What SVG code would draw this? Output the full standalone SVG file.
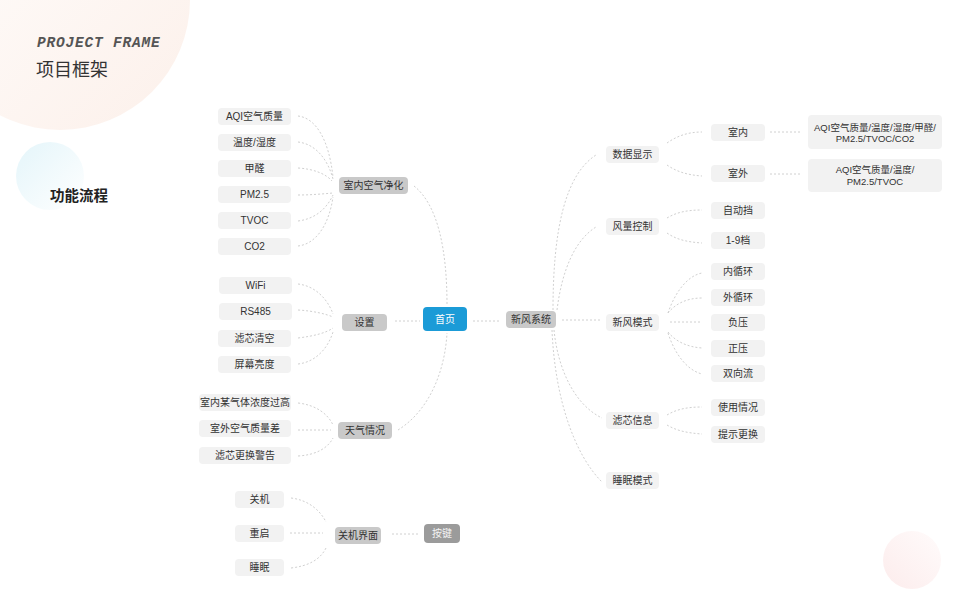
<svg xmlns="http://www.w3.org/2000/svg" width="960" height="600" viewBox="0 0 960 600">
<defs>
<linearGradient id="gPeach" x1="0" y1="0" x2="1" y2="1">
<stop offset="0" stop-color="#fffefd"/>
<stop offset="1" stop-color="#fcf0ea"/>
</linearGradient>
<linearGradient id="gBlue" x1="0" y1="0" x2="1" y2="1">
<stop offset="0" stop-color="#e4f5fa"/>
<stop offset="1" stop-color="#ffffff"/>
</linearGradient>
<linearGradient id="gPink" x1="0" y1="1" x2="1" y2="0">
<stop offset="0" stop-color="#fcecec"/>
<stop offset="1" stop-color="#fffbfb"/>
</linearGradient>
<style>
text{font-family:"Liberation Sans","Noto Sans CJK SC",sans-serif;font-size:10px;fill:#333;text-anchor:middle}
.leaf{fill:#f2f2f2}
.mid{fill:#c9c9c9}
.lt{fill:#f2f2f2}
.key{fill:#9b9b9b}
.conn path{fill:none;stroke:#d0d0d0;stroke-width:1;stroke-dasharray:2 2}
</style>
</defs>
<rect width="960" height="600" fill="#ffffff"/>
<circle cx="60" cy="0" r="130" fill="url(#gPeach)"/>
<circle cx="50" cy="176" r="34" fill="url(#gBlue)"/>
<circle cx="912" cy="560" r="29" fill="url(#gPink)"/>
<text x="37" y="47" style="font-family:'Liberation Mono',monospace;font-size:14.5px;font-style:italic;font-weight:bold;fill:#555;text-anchor:start;letter-spacing:0.8px">PROJECT FRAME</text>
<text x="36" y="76" style="font-size:18px;fill:#333;text-anchor:start">项目框架</text>
<text x="50" y="201" style="font-size:14.5px;font-weight:bold;fill:#222;text-anchor:start">功能流程</text>

<g class="conn" id="connectors">
<path d="M298 116 C316 118 329 140 333 177"/>
<path d="M298 142 C316 144 328 160 333 179"/>
<path d="M298 168 C314 169 326 174 332 181"/>
<path d="M298 195 C310 195 322 194 333 193"/>
<path d="M298 221 C314 219 326 210 333 195"/>
<path d="M298 246 C316 244 329 225 333 197"/>
<path d="M414 186 C438 205 447 250 447 305"/>
<path d="M298 284 C316 286 328 300 333 314"/>
<path d="M298 310 C314 311 326 314 333 317"/>
<path d="M298 338 C314 336 326 333 333 328"/>
<path d="M298 364 C316 362 328 348 333 332"/>
<path d="M395 321 L420 321"/>
<path d="M298 403 C316 405 328 414 333 425"/>
<path d="M298 430 L331 430"/>
<path d="M298 456 C316 455 328 448 333 438"/>
<path d="M398 430 C430 410 445 370 447 333"/>
<path d="M291 498 C308 500 320 510 326 522"/>
<path d="M290 533 L323 533"/>
<path d="M291 568 C308 566 320 560 326 548"/>
<path d="M392 534 L419 534"/>
<path d="M473 321 L500 321"/>
<path d="M553 310 C553 230 565 175 596 155"/>
<path d="M557 310 C562 270 575 240 596 227"/>
<path d="M562 320 L601 320"/>
<path d="M554 330 C558 370 575 405 602 418"/>
<path d="M552 330 C555 400 575 455 602 482"/>
<path d="M667 143 C677 136 688 132 702 132"/>
<path d="M667 165 C677 172 688 175 702 176"/>
<path d="M770 132 L800 132"/>
<path d="M770 174 L800 174"/>
<path d="M667 218 C677 212 688 210 702 210"/>
<path d="M667 233 C677 240 688 242 702 243"/>
<path d="M668 313 C674 295 686 276 702 273"/>
<path d="M668 313 C676 303 688 298 702 298"/>
<path d="M670 322 L700 322"/>
<path d="M668 332 C676 342 688 347 702 348"/>
<path d="M668 333 C674 352 686 370 702 374"/>
<path d="M667 415 C677 409 688 407 702 407"/>
<path d="M667 425 C677 431 688 433 702 434"/>
</g>

<g id="n-aqi"><rect class="leaf" x="218" y="108" width="73" height="17" rx="4"/><text x="254.5" y="120">AQI空气质量</text></g>
<g id="n-wendu"><rect class="leaf" x="218" y="134" width="73" height="17" rx="4"/><text x="254.5" y="146">温度/湿度</text></g>
<g id="n-jiaquan"><rect class="leaf" x="218" y="160" width="73" height="17" rx="4"/><text x="254.5" y="172">甲醛</text></g>
<g id="n-pm25"><rect class="leaf" x="218" y="186" width="73" height="17" rx="4"/><text x="254.5" y="198">PM2.5</text></g>
<g id="n-tvoc"><rect class="leaf" x="218" y="212" width="73" height="17" rx="4"/><text x="254.5" y="224">TVOC</text></g>
<g id="n-co2"><rect class="leaf" x="218" y="238" width="73" height="17" rx="4"/><text x="254.5" y="250">CO2</text></g>
<g id="n-indoor"><rect class="mid" x="339" y="177" width="69" height="17" rx="4"/><text x="373.5" y="189">室内空气净化</text></g>

<g id="n-wifi"><rect class="leaf" x="219" y="277" width="73" height="17" rx="4"/><text x="255.5" y="289">WiFi</text></g>
<g id="n-rs485"><rect class="leaf" x="219" y="303" width="73" height="17" rx="4"/><text x="255.5" y="315">RS485</text></g>
<g id="n-lxqk"><rect class="leaf" x="218" y="330" width="73" height="17" rx="4"/><text x="254.5" y="342">滤芯清空</text></g>
<g id="n-pmld"><rect class="leaf" x="218" y="356" width="73" height="17" rx="4"/><text x="254.5" y="368">屏幕亮度</text></g>
<g id="n-settings"><rect class="mid" x="342" y="314" width="45" height="17" rx="4"/><text x="364.5" y="326">设置</text></g>

<g id="n-home"><rect x="423" y="307" width="44" height="24" rx="4" fill="#1b9bd7"/><text x="445" y="323" style="fill:#ffffff">首页</text></g>

<g id="n-w1"><rect class="leaf" x="199" y="394" width="92" height="17" rx="4"/><text x="245" y="406">室内某气体浓度过高</text></g>
<g id="n-w2"><rect class="leaf" x="199" y="420" width="92" height="17" rx="4"/><text x="245" y="432">室外空气质量差</text></g>
<g id="n-w3"><rect class="leaf" x="199" y="447" width="92" height="17" rx="4"/><text x="245" y="459">滤芯更换警告</text></g>
<g id="n-weather"><rect class="mid" x="338" y="422" width="54" height="17" rx="4"/><text x="365" y="434">天气情况</text></g>

<g id="n-off"><rect class="leaf" x="235" y="491" width="49" height="17" rx="4"/><text x="259.5" y="503">关机</text></g>
<g id="n-restart"><rect class="leaf" x="235" y="525" width="49" height="17" rx="4"/><text x="259.5" y="537">重启</text></g>
<g id="n-sleep"><rect class="leaf" x="235" y="559" width="49" height="17" rx="4"/><text x="259.5" y="571">睡眠</text></g>
<g id="n-offui"><rect class="mid" x="335" y="527" width="46" height="17" rx="4"/><text x="358" y="539">关机界面</text></g>
<g id="n-key"><rect class="key" x="424" y="524" width="36" height="19" rx="4"/><text x="442" y="537" style="fill:#f4f4f4">按键</text></g>

<g id="n-xf"><rect class="mid" x="506" y="311" width="50" height="17" rx="4"/><text x="531" y="323">新风系统</text></g>

<g id="n-sjxs"><rect class="lt" x="606" y="146" width="53" height="17" rx="4"/><text x="632.5" y="158">数据显示</text></g>
<g id="n-flkz"><rect class="lt" x="606" y="218" width="53" height="17" rx="4"/><text x="632.5" y="230">风量控制</text></g>
<g id="n-xfms"><rect class="lt" x="606" y="314" width="53" height="17" rx="4"/><text x="632.5" y="326">新风模式</text></g>
<g id="n-lxxx"><rect class="lt" x="606" y="412" width="53" height="17" rx="4"/><text x="632.5" y="424">滤芯信息</text></g>
<g id="n-smms"><rect class="lt" x="606" y="472" width="53" height="17" rx="4"/><text x="632.5" y="484">睡眠模式</text></g>

<g id="n-sn"><rect class="lt" x="711" y="124" width="54" height="17" rx="4"/><text x="738" y="136">室内</text></g>
<g id="n-sw"><rect class="lt" x="711" y="165" width="54" height="17" rx="4"/><text x="738" y="177">室外</text></g>
<g id="n-zdd"><rect class="lt" x="711" y="202" width="54" height="17" rx="4"/><text x="738" y="214">自动挡</text></g>
<g id="n-19d"><rect class="lt" x="711" y="232" width="54" height="17" rx="4"/><text x="738" y="244">1-9档</text></g>
<g id="n-nxh"><rect class="lt" x="711" y="263" width="54" height="17" rx="4"/><text x="738" y="275">内循环</text></g>
<g id="n-wxh"><rect class="lt" x="711" y="289" width="54" height="17" rx="4"/><text x="738" y="301">外循环</text></g>
<g id="n-fy"><rect class="lt" x="711" y="314" width="54" height="17" rx="4"/><text x="738" y="326">负压</text></g>
<g id="n-zy"><rect class="lt" x="711" y="340" width="54" height="17" rx="4"/><text x="738" y="352">正压</text></g>
<g id="n-sxl"><rect class="lt" x="711" y="365" width="54" height="17" rx="4"/><text x="738" y="377">双向流</text></g>
<g id="n-syqk"><rect class="lt" x="711" y="399" width="54" height="17" rx="4"/><text x="738" y="411">使用情况</text></g>
<g id="n-tsgh"><rect class="lt" x="711" y="426" width="54" height="17" rx="4"/><text x="738" y="438">提示更换</text></g>

<g id="n-aqin"><rect class="lt" x="808" y="115" width="134" height="34" rx="4"/><text x="875" y="130.5" style="font-size:9.5px">AQI空气质量/温度/湿度/甲醛/</text><text x="875" y="142" style="font-size:9.5px">PM2.5/TVOC/CO2</text></g>
<g id="n-aqout"><rect class="lt" x="808" y="159" width="134" height="33" rx="4"/><text x="875" y="172.5" style="font-size:9.5px">AQI空气质量/温度/</text><text x="875" y="185" style="font-size:9.5px">PM2.5/TVOC</text></g>
</svg>
